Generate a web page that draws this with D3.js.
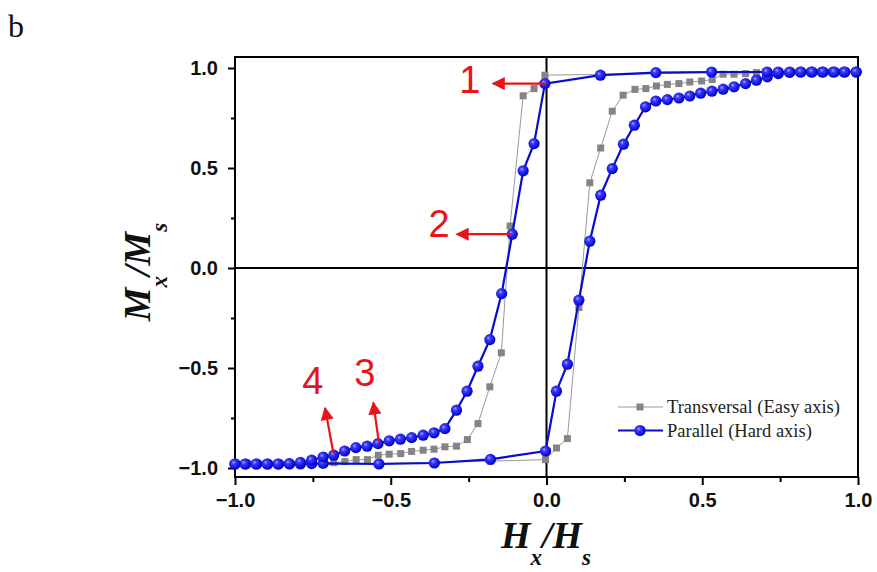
<!DOCTYPE html>
<html><head><meta charset="utf-8">
<script src="https://cdn.jsdelivr.net/npm/d3@7"></script>
<style>html,body{margin:0;padding:0;background:#fff;}svg{display:block;}</style>
</head><body>
<svg id="chart" width="877" height="572"></svg>
<script>
// ---- data ----
const xTicks = [-1.0, -0.5, 0.0, 0.5, 1.0];
const yTicks = [-1.0, -0.5, 0.0, 0.5, 1.0];
const xMinor = [-0.75, -0.25, 0.25, 0.75];
const yMinor = [-0.75, -0.25, 0.25, 0.75];

// Parallel (Hard axis) - ascending branch (H from -1 to +1)
const parUpH = [-1.0,-0.965,-0.93,-0.895,-0.86,-0.825,-0.79,-0.754,-0.717,-0.538,-0.36,-0.18,-0.003,0.032,0.067,0.104,0.139,0.174,0.211,0.247,0.282,0.318,0.351,0.388,0.425,0.46,0.495,0.531,0.567,0.602,0.639,0.674,0.709,0.744,0.78,0.815,0.85,0.885,0.92,0.955,0.994];
const parUpM = [-0.98,-0.98,-0.98,-0.98,-0.98,-0.98,-0.98,-0.978,-0.977,-0.98,-0.975,-0.957,-0.915,-0.616,-0.481,-0.161,0.134,0.364,0.497,0.619,0.714,0.806,0.835,0.842,0.85,0.86,0.874,0.884,0.894,0.906,0.922,0.939,0.956,0.972,0.978,0.98,0.98,0.98,0.98,0.98,0.98];
// Parallel (Hard axis) - descending branch (H from +1 to -1)
const parDownH = [0.994,0.958,0.924,0.888,0.853,0.817,0.781,0.744,0.708,0.53,0.351,0.173,-0.005,-0.04,-0.075,-0.11,-0.144,-0.182,-0.22,-0.255,-0.289,-0.326,-0.361,-0.396,-0.433,-0.469,-0.505,-0.541,-0.576,-0.612,-0.648,-0.683,-0.717,-0.754,-0.79,-0.826,-0.862,-0.897,-0.933,-0.968,-1.0];
const parDownM = [0.98,0.98,0.98,0.98,0.98,0.98,0.98,0.98,0.98,0.98,0.977,0.964,0.922,0.622,0.486,0.169,-0.128,-0.358,-0.491,-0.616,-0.711,-0.803,-0.824,-0.836,-0.848,-0.856,-0.864,-0.878,-0.891,-0.898,-0.915,-0.936,-0.945,-0.961,-0.972,-0.978,-0.98,-0.98,-0.98,-0.98,-0.98];

// Transversal (Easy axis) - ascending branch
const traUpH = [-1.0,-0.965,-0.93,-0.895,-0.86,-0.825,-0.79,-0.754,-0.717,-0.538,-0.36,-0.18,-0.003,0.032,0.067,0.104,0.139,0.174,0.211,0.246,0.284,0.319,0.353,0.388,0.425,0.46,0.498,0.532,0.567,0.602,0.639,0.674,0.709,0.744,0.78,0.815,0.85,0.885,0.92,0.955,0.994];
const traUpM = [-0.98,-0.98,-0.98,-0.98,-0.98,-0.98,-0.98,-0.98,-0.98,-0.976,-0.972,-0.966,-0.958,-0.9,-0.853,-0.198,0.426,0.6,0.784,0.864,0.893,0.897,0.91,0.918,0.922,0.93,0.935,0.942,0.969,0.969,0.972,0.977,0.978,0.98,0.98,0.98,0.98,0.98,0.98,0.98,0.98];
// Transversal (Easy axis) - descending branch
const traDownH = [0.994,0.958,0.924,0.888,0.853,0.817,0.781,0.744,0.708,0.53,0.351,0.173,-0.005,-0.04,-0.075,-0.117,-0.145,-0.182,-0.22,-0.254,-0.289,-0.326,-0.361,-0.396,-0.433,-0.468,-0.505,-0.54,-0.575,-0.611,-0.647,-0.683,-0.717,-0.754,-0.79,-0.826,-0.862,-0.897,-0.933,-0.968,-1.0];
const traDownM = [0.98,0.98,0.98,0.98,0.98,0.98,0.98,0.98,0.978,0.976,0.972,0.968,0.964,0.897,0.861,0.21,-0.424,-0.594,-0.778,-0.858,-0.891,-0.894,-0.906,-0.911,-0.917,-0.928,-0.931,-0.936,-0.958,-0.958,-0.968,-0.973,-0.977,-0.978,-0.98,-0.98,-0.98,-0.98,-0.98,-0.98,-0.98];

const seriesNames = ["Transversal (Easy axis)", "Parallel (Hard axis)"];

// annotations
const annLabels = ["1","2","3","4"];
const annFrom = [[-0.005,0.922],[-0.11,0.169],[-0.538,-0.873],[-0.684,-0.926]];
const annTo = [[-0.172,0.922],[-0.288,0.169],[-0.556,-0.673],[-0.711,-0.70]];
const annText = [[-0.246,0.875],[-0.345,0.155],[-0.583,-0.59],[-0.75,-0.628]];

// ---- drawing ----
const svg = d3.select("#chart");
const x = d3.scaleLinear().domain([-1, 1]).range([235, 858]);
const y = d3.scaleLinear().domain([-1.045, 1.055]).range([477, 57]);

const defs = svg.append("defs");
const grad = defs.append("radialGradient").attr("id","sphere")
  .attr("cx","40%").attr("cy","40%").attr("r","60%").attr("fx","38%").attr("fy","35%");
grad.append("stop").attr("offset","0%").attr("stop-color","#a8a8ff");
grad.append("stop").attr("offset","30%").attr("stop-color","#3a3aff");
grad.append("stop").attr("offset","100%").attr("stop-color","#0000c8");
defs.append("marker").attr("id","arrow").attr("viewBox","0 0 10 10")
  .attr("refX",9).attr("refY",5).attr("markerWidth",7).attr("markerHeight",6)
  .attr("markerUnits","strokeWidth").attr("orient","auto")
  .append("path").attr("d","M0,0 L10,5 L0,10 z").attr("fill","#e8141b");

const x0 = x.range()[0], x1 = x.range()[1];
const yTop = y.range()[1], yBot = y.range()[0];

// frame
svg.append("rect").attr("x",x0).attr("y",yTop).attr("width",x1-x0).attr("height",yBot-yTop)
  .attr("fill","none").attr("stroke","#000").attr("stroke-width",2);
// zero lines
svg.append("line").attr("x1",x0).attr("x2",x1).attr("y1",y(0)).attr("y2",y(0)).attr("stroke","#000").attr("stroke-width",2);
svg.append("line").attr("x1",x(0)).attr("x2",x(0)).attr("y1",yTop).attr("y2",yBot).attr("stroke","#000").attr("stroke-width",2);

// axes
const xAxis = d3.axisBottom(x).tickValues(xTicks).tickSize(8).tickSizeOuter(0).tickPadding(8).tickFormat(d3.format(".1f"));
const gx = svg.append("g").attr("transform",`translate(0,${yBot})`).call(xAxis);
const xAxisMinor = d3.axisBottom(x).tickValues(xMinor).tickSize(5).tickSizeOuter(0).tickFormat("");
const gxm = svg.append("g").attr("transform",`translate(0,${yBot})`).call(xAxisMinor);
const yAxis = d3.axisLeft(y).tickValues(yTicks).tickSize(7).tickSizeOuter(0).tickPadding(10).tickFormat(d3.format(".1f"));
const gy = svg.append("g").attr("transform",`translate(${x0},0)`).call(yAxis);
const yAxisMinor = d3.axisLeft(y).tickValues(yMinor).tickSize(4).tickSizeOuter(0).tickFormat("");
const gym = svg.append("g").attr("transform",`translate(${x0},0)`).call(yAxisMinor);
[gx,gxm,gy,gym].forEach(g=>{
  g.select(".domain").remove();
  g.selectAll(".tick line").attr("stroke","#000").attr("stroke-width",2);
  g.selectAll(".tick text").attr("fill","#111").attr("font-family","'Liberation Sans',Arial,sans-serif")
    .attr("font-weight","bold").attr("font-size",20);
});
gx.selectAll(".tick text").attr("dy","0.72em");

// series
function pts(hs, ms){ return hs.map((h,i)=>[h, ms[i]]); }
const line = d3.line().x(d=>x(d[0])).y(d=>y(d[1]));

const traUp = pts(traUpH, traUpM), traDown = pts(traDownH, traDownM);
const parUp = pts(parUpH, parUpM), parDown = pts(parDownH, parDownM);

[traUp, traDown].forEach(p=>{
  svg.append("path").attr("d",line(p)).attr("fill","none").attr("stroke","#9a9a9a").attr("stroke-width",1);
});
const sq = 7;
svg.append("g").selectAll("rect").data(traUp.concat(traDown)).join("rect")
  .attr("x",d=>x(d[0])-sq/2).attr("y",d=>y(d[1])-sq/2).attr("width",sq).attr("height",sq)
  .attr("fill","#848484");

[parUp, parDown].forEach(p=>{
  svg.append("path").attr("d",line(p)).attr("fill","none").attr("stroke","#0a0ad0").attr("stroke-width",2.2);
});
svg.append("g").selectAll("circle").data(parUp.concat(parDown)).join("circle")
  .attr("cx",d=>x(d[0])).attr("cy",d=>y(d[1])).attr("r",5.6)
  .attr("fill","url(#sphere)");

// legend
const lg = svg.append("g");
const legY = [407, 430.5];
lg.append("line").attr("x1",618).attr("x2",663).attr("y1",legY[0]).attr("y2",legY[0]).attr("stroke","#9a9a9a").attr("stroke-width",1);
lg.append("rect").attr("x",640-sq/2).attr("y",legY[0]-sq/2).attr("width",sq).attr("height",sq).attr("fill","#848484");
lg.append("line").attr("x1",618).attr("x2",663).attr("y1",legY[1]).attr("y2",legY[1]).attr("stroke","#0a0ad0").attr("stroke-width",2.2);
lg.append("circle").attr("cx",640).attr("cy",legY[1]).attr("r",5.6).attr("fill","url(#sphere)");
seriesNames.forEach((n,i)=>{
  lg.append("text").attr("x",667).attr("y",legY[i]+6).text(n)
    .attr("font-family","'Liberation Serif','Times New Roman',serif").attr("font-size",18.5).attr("fill","#222");
});

// annotations
annLabels.forEach((t,i)=>{
  svg.append("line").attr("x1",x(annFrom[i][0])).attr("y1",y(annFrom[i][1]))
    .attr("x2",x(annTo[i][0])).attr("y2",y(annTo[i][1]))
    .attr("stroke","#e8141b").attr("stroke-width",2.2).attr("marker-end","url(#arrow)");
  svg.append("text").attr("x",x(annText[i][0])).attr("y",y(annText[i][1])).attr("text-anchor","middle")
    .attr("font-family","'Liberation Sans',Arial,sans-serif").attr("font-size",38).attr("fill","#e8141b").text(t);
});

// axis titles
const tf = "'Liberation Serif','Times New Roman',serif";
const xt = svg.append("text").attr("x",546).attr("y",548).attr("text-anchor","middle")
  .attr("font-family",tf).attr("font-weight","bold").attr("font-style","italic").attr("font-size",38).attr("fill","#111");
xt.append("tspan").text("H");
xt.append("tspan").attr("font-size",23).attr("dy",17).text("x");
xt.append("tspan").attr("dy",-17).text("/H");
xt.append("tspan").attr("font-size",23).attr("dy",17).text("s");

const yt = svg.append("text").attr("transform","translate(150,272) rotate(-90)").attr("text-anchor","middle")
  .attr("font-family",tf).attr("font-weight","bold").attr("font-style","italic").attr("font-size",38).attr("fill","#111");
yt.append("tspan").text("M");
yt.append("tspan").attr("font-size",23).attr("dy",17).text("x");
yt.append("tspan").attr("dy",-17).text("/M");
yt.append("tspan").attr("font-size",23).attr("dy",17).text("s");

// panel label
svg.append("text").attr("x",8).attr("y",37).attr("font-family",tf).attr("font-size",32).attr("fill","#111").text("b");
</script>
</body></html>
